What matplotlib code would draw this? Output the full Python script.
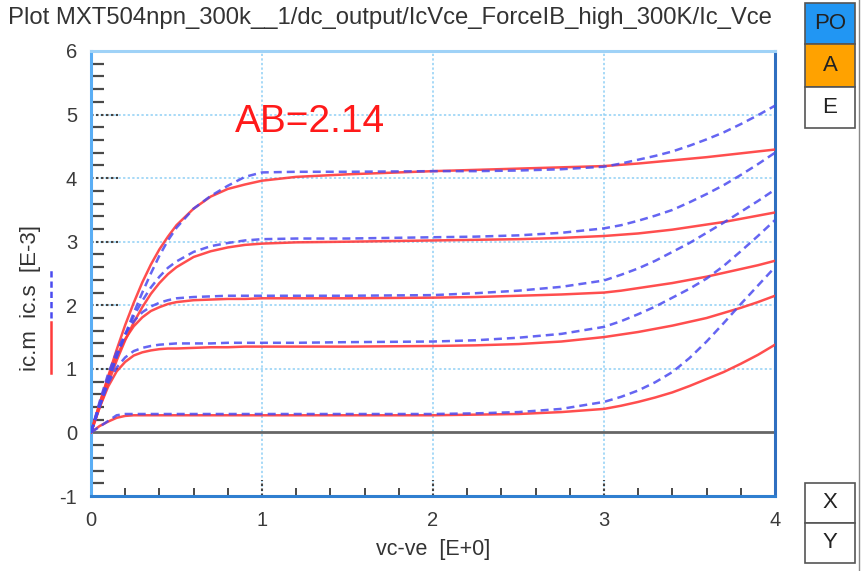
import matplotlib
matplotlib.use("Agg")
import matplotlib.pyplot as plt
from matplotlib.patches import Rectangle
from matplotlib.lines import Line2D
import matplotlib.transforms as mtransforms

plt.rcParams['font.family'] = ['Liberation Sans', 'DejaVu Sans']
plt.rcParams['axes.unicode_minus'] = False

# ---------------- data ----------------
vce = [0, 0.05, 0.1, 0.15, 0.2, 0.25, 0.3, 0.35, 0.4, 0.45, 0.5, 0.6, 0.7, 0.8,
       0.9, 1.0, 1.2, 1.5, 2.0, 2.25, 2.5, 2.75, 3.0, 3.1, 3.2, 3.3, 3.4, 3.5, 3.6,
       3.7, 3.8, 3.9, 4.0]

# measured ic.m [E-3] (red solid)
icm_1 = [0, 0.45, 0.88, 1.30, 1.69, 2.04, 2.36, 2.64, 2.88, 3.08, 3.26, 3.52, 3.71, 3.83,
         3.90, 3.96, 4.02, 4.06, 4.11, 4.13, 4.15, 4.17,
         4.19, 4.21, 4.23, 4.255, 4.28, 4.305, 4.33, 4.36, 4.39, 4.42, 4.45]
icm_2 = [0, 0.39, 0.77, 1.13, 1.45, 1.73, 1.97, 2.18, 2.35, 2.49, 2.60, 2.76, 2.85, 2.91,
         2.95, 2.97, 2.99, 3.00, 3.02, 3.03, 3.04, 3.06,
         3.09, 3.11, 3.13, 3.16, 3.19, 3.23, 3.27, 3.31, 3.36, 3.41, 3.46]
icm_3 = [0, 0.45, 0.86, 1.20, 1.47, 1.67, 1.81, 1.91, 1.97, 2.02, 2.05, 2.08, 2.09, 2.10,
         2.10, 2.11, 2.11, 2.11, 2.12, 2.13, 2.15, 2.17,
         2.20, 2.23, 2.27, 2.31, 2.35, 2.40, 2.45, 2.51, 2.57, 2.63, 2.70]
icm_4 = [0, 0.39, 0.72, 0.96, 1.11, 1.21, 1.26, 1.29, 1.31, 1.32, 1.32, 1.33, 1.34, 1.34,
         1.35, 1.35, 1.35, 1.35, 1.36, 1.37, 1.39, 1.43,
         1.50, 1.54, 1.58, 1.63, 1.68, 1.74, 1.80, 1.88, 1.96, 2.05, 2.15]
icm_5 = [0, 0.10, 0.17, 0.23, 0.26, 0.27, 0.27, 0.27, 0.27, 0.27, 0.27, 0.27, 0.27, 0.27,
         0.27, 0.27, 0.27, 0.27, 0.27, 0.28, 0.29, 0.32,
         0.37, 0.42, 0.48, 0.55, 0.63, 0.73, 0.84, 0.95, 1.08, 1.22, 1.38]

# simulated ic.s [E-3] (blue dashed)
ics_1 = [0, 0.40, 0.80, 1.18, 1.54, 1.88, 2.20, 2.50, 2.78, 3.02, 3.22, 3.52, 3.72, 3.88,
         4.02, 4.09, 4.10, 4.10, 4.11, 4.11, 4.12, 4.14,
         4.18, 4.23, 4.29, 4.35, 4.42, 4.51, 4.61, 4.72, 4.85, 4.99, 5.14]
ics_2 = [0, 0.42, 0.82, 1.20, 1.53, 1.83, 2.07, 2.28, 2.45, 2.59, 2.69, 2.84, 2.93, 2.98,
         3.02, 3.04, 3.05, 3.05, 3.07, 3.08, 3.10, 3.14,
         3.21, 3.26, 3.33, 3.41, 3.50, 3.62, 3.75, 3.89, 4.05, 4.22, 4.40]
ics_3 = [0, 0.48, 0.92, 1.27, 1.55, 1.75, 1.89, 1.98, 2.04, 2.08, 2.11, 2.13, 2.14, 2.15,
         2.15, 2.15, 2.15, 2.15, 2.16, 2.19, 2.23, 2.29,
         2.39, 2.48, 2.58, 2.70, 2.84, 2.98, 3.14, 3.30, 3.47, 3.64, 3.82]
ics_4 = [0, 0.42, 0.77, 1.02, 1.18, 1.28, 1.33, 1.36, 1.38, 1.39, 1.40, 1.40, 1.40, 1.41,
         1.41, 1.41, 1.41, 1.42, 1.43, 1.45, 1.49, 1.55,
         1.66, 1.75, 1.86, 1.98, 2.12, 2.26, 2.42, 2.62, 2.85, 3.09, 3.34]
ics_5 = [0, 0.09, 0.18, 0.27, 0.29, 0.29, 0.29, 0.29, 0.29, 0.29, 0.29, 0.29, 0.29, 0.29,
         0.29, 0.29, 0.29, 0.29, 0.29, 0.30, 0.32, 0.37,
         0.48, 0.56, 0.66, 0.79, 0.95, 1.17, 1.43, 1.72, 2.02, 2.31, 2.60]

icm_curves = [icm_1, icm_2, icm_3, icm_4, icm_5]
ics_curves = [ics_1, ics_2, ics_3, ics_4, ics_5]

x_ticks = [0, 1, 2, 3, 4]
y_ticks = [-1, 0, 1, 2, 3, 4, 5, 6]
title = "Plot MXT504npn_300k__1/dc_output/IcVce_ForceIB_high_300K/Ic_Vce"
xlabel = "vc-ve  [E+0]"
annotation = "AB=2.14"

# ---------------- figure ----------------
W, H = 862, 571
fig = plt.figure(figsize=(W / 100, H / 100), dpi=100)
ax = fig.add_axes([91 / W, 1 - 496 / H, (775 - 91) / W, (496 - 51) / H])
ax.set_xlim(0, 4)
ax.set_ylim(-1, 6)

grid_col = '#8fd0f5'
for gx in [1, 2, 3]:
    ax.axvline(gx, color=grid_col, lw=1.1, ls=(0, (1.5, 1.5)), zorder=1)
for gy in [1, 2, 3, 4, 5]:
    ax.axhline(gy, color=grid_col, lw=1.1, ls=(0, (1.5, 1.5)), zorder=1)

# dark dotted stubs at major ticks
ytr = mtransforms.blended_transform_factory(ax.transAxes, ax.transData)
for gy in [1, 2, 3, 4, 5]:
    ax.add_line(Line2D([0, 27 / 684], [gy, gy], transform=ytr, color='#444444',
                       lw=1.5, ls=(0, (1.2, 1.2)), zorder=2))
xtr = mtransforms.blended_transform_factory(ax.transData, ax.transAxes)
for gx in [1, 2, 3]:
    ax.add_line(Line2D([gx, gx], [0, 16 / 445], transform=xtr, color='#444444',
                       lw=1.5, ls=(0, (1.2, 1.2)), zorder=2))

ax.axhline(0, color='#666666', lw=2.0, zorder=2)

for c in icm_curves:
    ax.plot(vce, c, color='#ff3b3b', lw=1.8, alpha=0.9, zorder=3)
for c in ics_curves:
    ax.plot(vce, c, color='#4a4af0', lw=1.8, ls=(0, (3.2, 2.0)), alpha=0.85, zorder=4)

ax.text(0.84, 4.88, annotation, color='#ff1a1a', fontsize=28, ha='left', va='center',
        zorder=5)

# ticks
ax.set_xticks(x_ticks)
ax.set_yticks(y_ticks)
ax.set_xticks([0.2 * i for i in range(1, 20) if i % 5], minor=True)
ax.set_yticks([-1 + 0.2 * i for i in range(1, 35) if i % 5], minor=True)
ax.tick_params(axis='both', which='major', length=0, labelsize=14.5, labelcolor='#3a3a3a')
ax.tick_params(axis='x', which='major', pad=11)
ax.tick_params(axis='y', which='major', pad=10)
ax.tick_params(axis='y', which='minor', direction='in', length=9.4, width=1.6,
               color='#4a4a4a', left=True)
ax.tick_params(axis='x', which='minor', direction='in', length=5.8, width=1.4,
               color='#4a4a4a', bottom=True)

for side, col in [('left', '#5aaef5'), ('top', '#9fd2f7'), ('bottom', '#2f7fd0'),
                  ('right', '#2f6fc0')]:
    ax.spines[side].set_color(col)
    ax.spines[side].set_linewidth(2.2)

ax.set_xlabel(xlabel, fontsize=15.5, color='#333333', labelpad=6)

# y label with line samples
fig.text(31 / W, 1 - 298 / H, "ic.m  ic.s  [E-3]", rotation=90, fontsize=16,
         color='#333333', ha='center', va='center')
fig.add_artist(Line2D([51 / W, 51 / W], [1 - 373 / H, 1 - 322 / H], color='#ff3b3b',
                      lw=1.8, transform=fig.transFigure))
fig.add_artist(Line2D([51 / W, 51 / W], [1 - 318 / H, 1 - 268 / H], color='#4a4af0',
                      lw=1.8, ls=(0, (2.5, 1.6)), transform=fig.transFigure))

fig.text(8 / W, 1 - 18 / H, title, fontsize=17.2, color='#333333', ha='left', va='center')

# side buttons
def button(y0, y1, label, face):
    fig.add_artist(Rectangle((805 / W, 1 - y1 / H), 50 / W, (y1 - y0) / H,
                             facecolor=face, edgecolor='#555555', lw=1.2,
                             transform=fig.transFigure))
    fig.text(830 / W, 1 - (y0 + y1) / 2 / H, label, fontsize=16, color='#222222',
             ha='center', va='center')

button(3, 44, "PO", '#2196f3')
button(44, 87, "A", '#ffa200')
button(87, 128, "E", 'white')
button(483, 523, "X", 'white')
button(523, 563, "Y", 'white')
fig.add_artist(Line2D([859 / W, 859 / W], [0, 1], color='#888888', lw=1,
                      transform=fig.transFigure))

fig.savefig("out.png", dpi=100)
